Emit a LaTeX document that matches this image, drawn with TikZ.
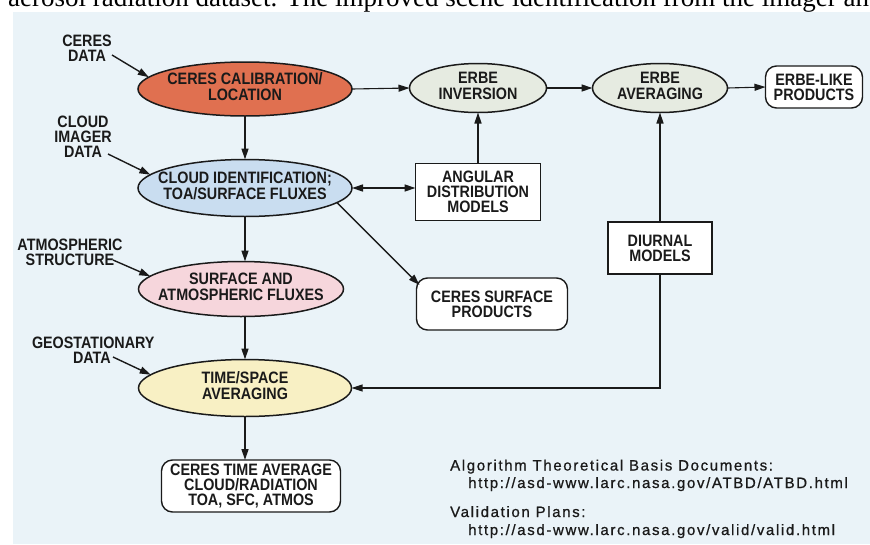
\documentclass[tikz,border=0pt]{standalone}
\usepackage{fontspec}
\usetikzlibrary{shapes.geometric,arrows.meta,calc}
\newfontfamily\dgfont{Liberation Sans}[FakeStretch=0.87]
\newfontfamily\ftfont{Liberation Sans}[LetterSpace=11,FakeBold=0.8]
\newfontfamily\tpfont{Liberation Serif}
\definecolor{bgblue}{HTML}{EAF3F8}
\definecolor{calred}{HTML}{E07050}
\definecolor{cidblue}{HTML}{C9DDF0}
\definecolor{safpink}{HTML}{F6D6DC}
\definecolor{tsyellow}{HTML}{F8F0C4}
\definecolor{erbegray}{HTML}{E6EBE1}
\definecolor{ink}{HTML}{1A1A1A}
\newcommand\cl[1]{\makebox[0pt]{\begin{tabular}{@{}c@{}}#1\end{tabular}}}
\begin{document}
\begin{tikzpicture}[x=1pt,y=-1pt,
  base/.style={font=\dgfont\bfseries\fontsize{16.5}{15}\selectfont, inner sep=0pt, outer sep=0pt, text=ink},
  proc/.style={base, ellipse, draw=ink, line width=1.5pt},
  boxn/.style={base, rectangle, draw=ink, fill=white, line width=1.4pt, align=center},
  rbox/.style={boxn, rounded corners=11pt},
  lab/.style={base, align=center},
  foot/.style={font=\ftfont\fontsize{15}{17}\selectfont, inner sep=0pt, text=ink, anchor=base west},
  arr/.style={-{Triangle[length=11pt,width=7pt]}, line width=1.4pt, draw=ink},
  darr/.style={{Triangle[length=11pt,width=7pt]}-{Triangle[length=11pt,width=7pt]}, line width=1.4pt, draw=ink}
]
\useasboundingbox (0,0) rectangle (870,544);
\fill[white] (0,0) rectangle (870,544);
\begin{scope}
  \clip (0,0) rectangle (870,12);
  \node[anchor=base west, inner sep=0pt, font=\tpfont\fontsize{27}{30}\selectfont] (toptext) at (8,6.5)
    {aerosol radiation dataset. The improved scene identification from the imager and};
\end{scope}
\fill[bgblue] (13,12) rectangle (870,544);

% process ellipses
\node[proc, fill=calred, minimum width=214pt, minimum height=54pt] (cal) at (245,89) {\cl{CERES CALIBRATION/\\LOCATION}};
\node[proc, fill=cidblue, minimum width=214pt, minimum height=57pt] (cid) at (245,188) {\cl{CLOUD IDENTIFICATION;\\TOA/SURFACE FLUXES}};
\node[proc, fill=safpink, minimum width=205pt, minimum height=55pt] (saf) at (241,289) {\cl{SURFACE AND\\ATMOSPHERIC FLUXES}};
\node[proc, fill=tsyellow, minimum width=213pt, minimum height=57pt] (ts) at (245,388) {\cl{TIME/SPACE\\AVERAGING}};
\node[proc, fill=erbegray, minimum width=137pt, minimum height=49pt] (ei) at (478,88) {\cl{ERBE\\INVERSION}};
\node[proc, fill=erbegray, minimum width=135pt, minimum height=49pt] (ea) at (660,88) {\cl{ERBE\\AVERAGING}};

% boxes
\node[rbox, minimum width=97pt, minimum height=42pt] (el) at (814,87) {ERBE-LIKE\\PRODUCTS};
\node[boxn, minimum width=125pt, minimum height=57pt] (adm) at (478,192) {ANGULAR\\DISTRIBUTION\\MODELS};
\node[boxn, minimum width=104pt, minimum height=52pt] (dm) at (660,248) {DIURNAL\\MODELS};
\node[rbox, minimum width=151pt, minimum height=52pt] (csp) at (492,304) {CERES SURFACE\\PRODUCTS};
\node[rbox, minimum width=179pt, minimum height=52pt] (cta) at (251,486) {CERES TIME AVERAGE\\CLOUD/RADIATION\\TOA, SFC, ATMOS};

% input labels
\node[lab] (l1) at (87,48) {CERES\\DATA};
\node[lab] (l2) at (83,137) {CLOUD\\IMAGER\\DATA};
\node[lab] (l3) at (70,252) {ATMOSPHERIC\\STRUCTURE};
\node[base, align=left, anchor=west] (l4) at (32,350) {GEOSTATIONARY\\\hspace*{41pt}DATA};

\coordinate (s1) at (112,55);
\coordinate (s2) at (108,154);
\coordinate (s3) at (113,260);
\coordinate (s4) at (113,357);

\draw[arr] (s1) -- (cal.173);
\draw[arr] (s2) -- (cid.172);
\draw[arr] (s3) -- (saf.172);
\draw[arr] (s4) -- (ts.172);

% main flow
\draw[arr] (cal.south) -- (cid.north);
\draw[arr] (cid.south) -- (cid.south |- saf.north);
\draw[arr] (cid.south |- saf.south) -- (ts.north);
\draw[arr] (ts.south) -- (ts.south |- cta.north);

\draw[arr, line width=1.1pt] (cal.east) -- (ei.west);
\draw[arr] (ei.east) -- (ea.west);
\draw[arr, line width=1.1pt] (ea.east) -- (el.west);
\draw[arr] (adm.north) -- (ei.south);
\draw[darr] (cid.east) -- (cid.east -| adm.west);
\draw[arr] (cid.-9) -- ($(csp.north west)+(3,7)$);
\draw[arr] (dm.north) -- (ea.south);
\draw[arr, line width=1.1pt] (dm.south) |- (ts.east);

% footer
\node[foot] (f1) at (450,470.5) {Algorithm Theoretical Basis Documents:};
\node[foot] (f2) at (468,488) {http://asd-www.larc.nasa.gov/ATBD/ATBD.html};
\node[foot] (f3) at (450,517) {Validation Plans:};
\node[foot] (f4) at (468,535) {http://asd-www.larc.nasa.gov/valid/valid.html};
\end{tikzpicture}
\end{document}
